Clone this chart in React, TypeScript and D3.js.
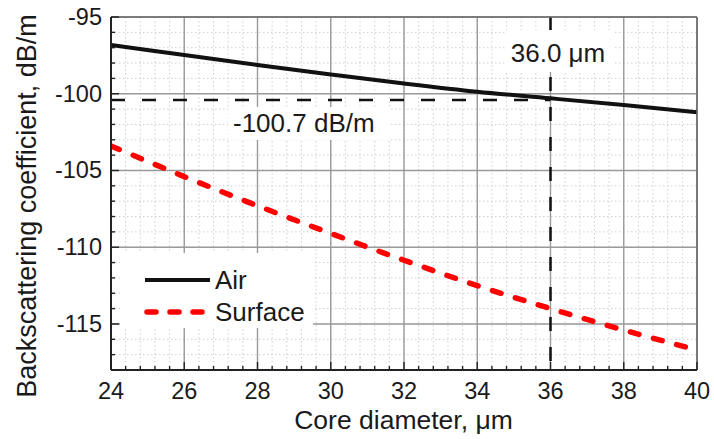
import React from "react";
import * as d3 from "d3";

const coreDiameters = [24, 26, 28, 30, 32, 34, 36, 38, 40];
const airValues = [-96.83, -97.48, -98.13, -98.74, -99.33, -99.87, -100.3, -100.74, -101.2];
const surfaceValues = [-103.4, -105.4, -107.3, -109.1, -110.85, -112.5, -114.0, -115.4, -116.7];
const xTicks = [24, 26, 28, 30, 32, 34, 36, 38, 40];
const yTicks = [-95, -100, -105, -110, -115];
const seriesNames = ["Air", "Surface"];
const refX = 36;
const refY = -100.4;
const refXLabel = "36.0 μm";
const refYLabel = "-100.7 dB/m";
const xTitle = "Core diameter, μm";
const yTitle = "Backscattering coefficient, dB/m";

const W = 714;
const H = 439;
const L = 111, R = 697, T = 17, B = 370;
const FONT = "'Liberation Sans', Arial, sans-serif";
const TXT = "#1a1a1a";

export default function App() {
  const x = d3.scaleLinear().domain([24, 40]).range([L, R]);
  const y = d3.scaleLinear().domain([-118, -95]).range([B, T]);

  const xMinor = d3.range(24, 40.0001, 0.4).map((v) => +v.toFixed(2));
  const yMinor = d3.range(-118, -94.999, 1);

  const airPath = d3
    .line<number>()
    .x((_, i) => x(coreDiameters[i]))
    .y((v) => y(v))
    .curve(d3.curveMonotoneX)(airValues) || "";
  const surfPath = d3
    .line<number>()
    .x((_, i) => x(coreDiameters[i]))
    .y((v) => y(v))
    .curve(d3.curveMonotoneX)(surfaceValues) || "";

  return (
    <svg
      width={W}
      height={H}
      style={{ position: "absolute", left: 0, top: 0, display: "block", background: "#fff" }}
      fontFamily={FONT}
    >
      <defs>
        <clipPath id="plot">
          <rect x={L} y={T} width={R - L} height={B - T} />
        </clipPath>
      </defs>
      <rect x={0} y={0} width={W} height={H} fill="#fff" />
      {/* minor grid */}
      {xMinor.map((v, i) => (
        <line key={"xm" + i} x1={x(v)} x2={x(v)} y1={T} y2={B} stroke="#cfcfcf" strokeWidth={1} strokeDasharray="1.5,2.5" />
      ))}
      {yMinor.map((v, i) => (
        <line key={"ym" + i} x1={L} x2={R} y1={y(v)} y2={y(v)} stroke="#cfcfcf" strokeWidth={1} strokeDasharray="1.5,2.5" />
      ))}
      {/* major grid */}
      {xTicks.map((v) => (
        <line key={"xg" + v} x1={x(v)} x2={x(v)} y1={T} y2={B} stroke="#9a9a9a" strokeWidth={1.4} />
      ))}
      {yTicks.map((v) => (
        <line key={"yg" + v} x1={L} x2={R} y1={y(v)} y2={y(v)} stroke="#9a9a9a" strokeWidth={1.4} />
      ))}
      {/* reference lines */}
      <line x1={x(refX)} x2={x(refX)} y1={T} y2={B} stroke="#111" strokeWidth={2.5} strokeDasharray="14,16" />
      <line x1={x(24)} x2={x(refX)} y1={y(refY)} y2={y(refY)} stroke="#111" strokeWidth={2.5} strokeDasharray="14,17" />
      {/* label boxes */}
      <rect x={505} y={30} width={108} height={42} fill="#fff" />
      <text x={558} y={62} textAnchor="middle" fontSize={26} fill={TXT}>{refXLabel}</text>
      <rect x={228} y={107} width={162} height={33} fill="#fff" />
      <text x={233} y={132} textAnchor="start" fontSize={26} fill={TXT}>{refYLabel}</text>
      {/* data */}
      <g clipPath="url(#plot)">
        <path d={airPath} fill="none" stroke="#111" strokeWidth={4} />
        <path d={surfPath} fill="none" stroke="#ff0000" strokeWidth={5.5} strokeDasharray="9,15" strokeLinecap="round" />
      </g>
      {/* legend */}
      <rect x={120} y={253} width={193} height={75} fill="#fff" />
      <line x1={145} x2={210} y1={280} y2={280} stroke="#111" strokeWidth={4} />
      <text x={215} y={289} fontSize={26} fill={TXT}>{seriesNames[0]}</text>
      <line x1={147} x2={208} y1={312} y2={312} stroke="#ff0000" strokeWidth={5.5} strokeDasharray="9,14" strokeLinecap="round" />
      <text x={215} y={321} fontSize={26} fill={TXT}>{seriesNames[1]}</text>
      {/* frame */}
      <line x1={L} x2={R} y1={T} y2={T} stroke="#6a6a6a" strokeWidth={1.6} />
      <line x1={R} x2={R} y1={T} y2={B} stroke="#6a6a6a" strokeWidth={1.6} />
      <line x1={L} x2={L} y1={T} y2={B} stroke="#222" strokeWidth={2} />
      <line x1={L} x2={R} y1={B} y2={B} stroke="#222" strokeWidth={2} />
      {/* ticks */}
      {xMinor.map((v, i) => (
        <line key={"xt" + i} x1={x(v)} x2={x(v)} y1={B} y2={B - (xTicks.includes(v) ? 8 : 4)} stroke="#222" strokeWidth={1.4} />
      ))}
      {yMinor.map((v, i) => (
        <line key={"yt" + i} x1={L} x2={L + (yTicks.includes(v) ? 8 : 4)} y1={y(v)} y2={y(v)} stroke="#222" strokeWidth={1.4} />
      ))}
      {/* tick labels */}
      {xTicks.map((v) => (
        <text key={"xl" + v} x={x(v)} y={399} textAnchor="middle" fontSize={23.5} fill={TXT}>{v}</text>
      ))}
      {yTicks.map((v) => (
        <text key={"yl" + v} x={102} y={y(v) + 8} textAnchor="end" fontSize={23.5} fill={TXT}>{v}</text>
      ))}
      {/* titles */}
      <text x={(293 + 514) / 2} y={429} textAnchor="middle" fontSize={26.5} fill={TXT}>{xTitle}</text>
      <text transform={`translate(36,${206}) rotate(-90)`} textAnchor="middle" fontSize={27} fill={TXT}>{yTitle}</text>
    </svg>
  );
}
